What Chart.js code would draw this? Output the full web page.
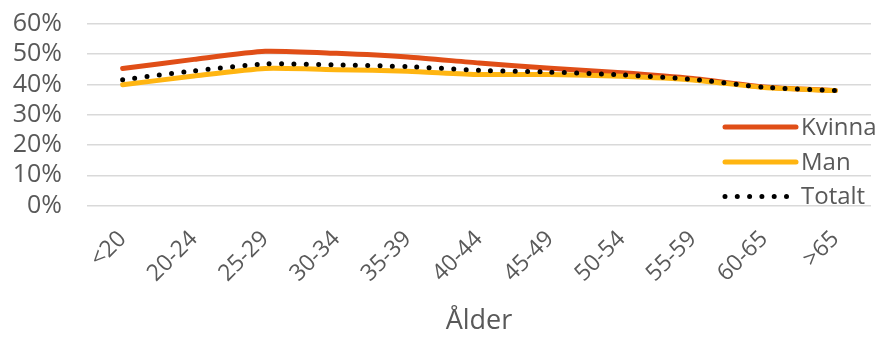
<!DOCTYPE html>
<html>
<head>
<meta charset="utf-8">
<script src="https://cdn.jsdelivr.net/npm/chart.js@4/dist/chart.umd.min.js"></script>
<style>
  html, body { margin: 0; padding: 0; background: #fff; }
  #wrap { width: 879px; height: 338px; position: relative; }
</style>
</head>
<body>
<div id="wrap"><canvas id="c"></canvas></div>
<script>
// Andel per åldersgrupp (%)
const categories = ['<20', '20-24', '25-29', '30-34', '35-39', '40-44', '45-49', '50-54', '55-59', '60-65', '>65'];
const kvinna = [45.3, 48.3, 51.0, 50.3, 49.1, 47.1, 45.4, 43.9, 42.0, 39.2, 38.0];
const man    = [39.9, 42.8, 45.3, 44.9, 44.4, 43.3, 43.3, 42.7, 41.5, 39.0, 38.0];
const totalt = [41.6, 44.5, 46.8, 46.5, 45.9, 44.7, 44.1, 43.2, 41.7, 39.1, 38.0];
const yTicks = [0, 10, 20, 30, 40, 50, 60];

const FONT = '"Open Sans", "DejaVu Sans", sans-serif';
const TEXT = '#595959';

// Legend drawn on top of the plot, right side
const legendPlugin = {
  id: 'sideLegend',
  afterDraw(chart) {
    const ctx = chart.ctx;
    const items = chart.data.datasets;
    const x0 = 725, x1 = 796, rows = [127, 162, 196.5];
    ctx.save();
    items.forEach((ds, i) => {
      const y = rows[i];
      ctx.beginPath();
      ctx.strokeStyle = ds.borderColor;
      ctx.lineWidth = ds.borderWidth;
      ctx.lineCap = 'round';
      ctx.setLineDash(ds.borderDash || []);
      ctx.moveTo(x0, y);
      ctx.lineTo(ds.borderDash ? x1 - 6 : x1, y);
      ctx.stroke();
      ctx.setLineDash([]);
      ctx.fillStyle = TEXT;
      ctx.font = '24px ' + FONT;
      ctx.textBaseline = 'middle';
      ctx.textAlign = 'left';
      ctx.fillText(ds.label, 801, y + 1);
    });
    ctx.restore();
  }
};

new Chart(document.getElementById('c'), {
  type: 'line',
  data: {
    labels: categories,
    datasets: [
      { label: 'Kvinna', data: kvinna, borderColor: '#E04E17', borderWidth: 5, order: 2 },
      { label: 'Man', data: man, borderColor: '#FFB511', borderWidth: 5, order: 1 },
      { label: 'Totalt', data: totalt, borderColor: '#000000', borderWidth: 5, borderDash: [0, 12.3], borderCapStyle: 'round', order: 0 }
    ]
  },
  options: {
    responsive: true,
    maintainAspectRatio: false,
    animation: false,
    layout: { padding: { left: 0, right: 8, top: 24, bottom: 0 } },
    elements: {
      point: { radius: 0, hoverRadius: 0 },
      line: { tension: 0.2, borderCapStyle: 'round', borderJoinStyle: 'round', fill: false }
    },
    plugins: { legend: { display: false }, tooltip: { enabled: false } },
    scales: {
      x: {
        offset: true,
        afterFit(scale) { scale.height = 132.5; },
        grid: { display: false, drawTicks: false },
        border: { display: false },
        ticks: { color: TEXT, font: { family: FONT, size: 23 }, minRotation: 45, maxRotation: 45, padding: 20, autoSkip: false },
        title: { display: true, text: 'Ålder', color: TEXT, font: { family: FONT, size: 27 }, padding: { top: 0, bottom: 0 } }
      },
      y: {
        min: 0, max: 60,
        afterBuildTicks(scale) { scale.ticks = yTicks.map(v => ({ value: v })); },
        afterFit(scale) { scale.width = 87; scale.paddingTop = 0; scale.paddingBottom = 0; },
        grid: { color: '#D9D9D9', lineWidth: 1.5, drawTicks: false },
        border: { display: false },
        ticks: { color: TEXT, font: { family: FONT, size: 25 }, padding: 25, autoSkip: false, callback: v => v + '%' }
      }
    }
  },
  plugins: [legendPlugin]
});
</script>
</body>
</html>
